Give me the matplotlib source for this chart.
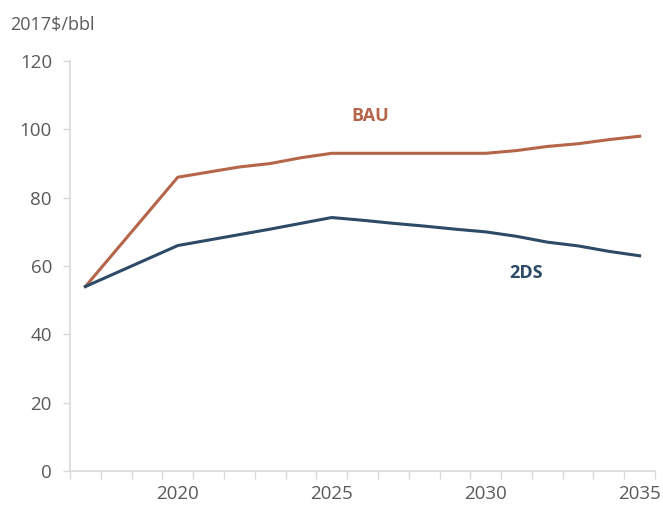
"""Oil price outlook, BAU vs 2DS, in 2017$/bbl."""

import matplotlib

matplotlib.use("Agg")
import matplotlib.pyplot as plt
import numpy as np

years = list(range(2017, 2036))
# 2018 and 2019 have no values; the line just joins 2017 to 2020
bau = [54, np.nan, np.nan, 86, 87.5, 89, 90, 91.7, 93, 93, 93, 93, 93, 93,
       93.8, 95, 95.8, 97, 98]
two_ds = [54, np.nan, np.nan, 66, 67.6, 69.2, 70.8, 72.5, 74.2, 73.4, 72.5,
          71.7, 70.8, 70, 68.7, 67, 65.9, 64.3, 63]
y_ticks = [0, 20, 40, 60, 80, 100, 120]
label_years = [2020, 2025, 2030, 2035]

bau_color = "#B5654A"
ds_color = "#2D4A66"
grey = "#595959"
axis_grey = "#D9D9D9"

plt.rcParams["font.family"] = ["Open Sans", "DejaVu Sans"]

fig = plt.figure(figsize=(6.63, 5.08), dpi=100)
ax = fig.add_axes([0.1056, 0.0728, 0.8824, 0.807])

x = np.arange(len(years))
bau_arr = np.array(bau, dtype=float)
ds_arr = np.array(two_ds, dtype=float)
ok = ~np.isnan(bau_arr)
ax.plot(x[ok], bau_arr[ok], color=bau_color, lw=2.2, solid_joinstyle="round")
ok = ~np.isnan(ds_arr)
ax.plot(x[ok], ds_arr[ok], color=ds_color, lw=2.2, solid_joinstyle="round")

ax.text(years.index(2026) + 0.25, 104, "BAU", color=bau_color, fontsize=13,
        fontweight="bold", ha="center", va="center")
ax.text(years.index(2031) + 0.3, 58, "2DS", color=ds_color, fontsize=13,
        fontweight="bold", ha="center", va="center")

ax.set_xlim(-0.5, len(years) - 0.5)
ax.set_ylim(0, 120)
ax.set_yticks(y_ticks)
ax.set_xticks([years.index(y) for y in label_years])
ax.set_xticklabels([str(y) for y in label_years])
ax.set_xticks(np.arange(-0.5, len(years)), minor=True)

ax.tick_params(axis="y", colors=axis_grey, labelcolor=grey, labelsize=13.5,
               length=5, width=1, pad=8)
ax.tick_params(axis="x", which="major", length=0, labelcolor=grey,
               labelsize=13.5, pad=10)
ax.tick_params(axis="x", which="minor", length=6, width=1, colors=axis_grey)

for side in ("top", "right"):
    ax.spines[side].set_visible(False)
for side in ("left", "bottom"):
    ax.spines[side].set_color(axis_grey)
    ax.spines[side].set_linewidth(1.2)

fig.text(10 / 663, 1 - 25 / 508, "2017$/bbl", color=grey, fontsize=13,
         ha="left", va="center")

fig.savefig("out.png", dpi=100)
